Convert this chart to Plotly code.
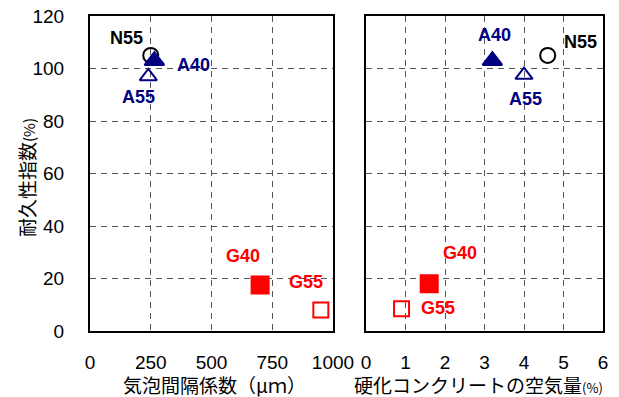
import plotly.graph_objects as go

# ---- data ----
labels = ["N55", "A40", "A55", "G40", "G55"]
spacing_um = [250, 265, 240, 700, 950]          # 気泡間隔係数 (μm)
air_pct = [4.6, 3.2, 4.0, 1.6, 0.9]             # 硬化コンクリートの空気量 (%)
durability_left = [105, 103, 97, 17.5, 8]       # 耐久性指数 (%) - left panel
durability_right = [105, 103, 97.5, 18, 8.5]    # 耐久性指数 (%) - right panel

symbols = ["circle-open", "triangle-up", "triangle-up-open", "square", "square-open"]
colors = ["black", "#000080", "#000080", "#FF0000", "#FF0000"]
sizes = [15, 17, 15, 17, 15]

left_x_ticks = [0, 250, 500, 750, 1000]
right_x_ticks = [0, 1, 2, 3, 4, 5, 6]
y_ticks = [0, 20, 40, 60, 80, 100, 120]

# label pixel offsets (dx, dy up) for left and right panels
left_offsets = [(-24, 17), (39, -4), (-10, -21), (-17, 29), (-15, 28)]
right_offsets = [(33, 13), (2, 26), (1, -24), (31, 31), (36, 1)]

W, H = 619, 397
FONT = "Liberation Sans, Arial, Noto Sans CJK JP, sans-serif"
JFONT = "Noto Sans CJK JP, Liberation Sans, sans-serif"

fig = go.Figure()
for i, lab in enumerate(labels):
    mk = dict(symbol=symbols[i], size=sizes[i], color=colors[i],
              line=dict(color=colors[i], width=2))
    fig.add_trace(go.Scatter(x=[spacing_um[i]], y=[durability_left[i]], mode="markers",
                             marker=mk, xaxis="x", yaxis="y", showlegend=False))
    fig.add_trace(go.Scatter(x=[air_pct[i]], y=[durability_right[i]], mode="markers",
                             marker=mk, xaxis="x2", yaxis="y2", showlegend=False))

annotations = []
for i, lab in enumerate(labels):
    dx, dy = left_offsets[i]
    annotations.append(dict(x=spacing_um[i], y=durability_left[i], xref="x", yref="y",
                            xanchor="center", yanchor="middle",
                            text="<b>%s</b>" % lab, showarrow=False, xshift=dx, yshift=dy,
                            font=dict(family=FONT, size=18, color=colors[i])))
    dx, dy = right_offsets[i]
    annotations.append(dict(x=air_pct[i], y=durability_right[i], xref="x2", yref="y2",
                            xanchor="center", yanchor="middle",
                            text="<b>%s</b>" % lab, showarrow=False, xshift=dx, yshift=dy,
                            font=dict(family=FONT, size=18, color=colors[i])))

# axis titles
annotations.append(dict(x=214 / W, y=1 - 384 / H, xref="paper", yref="paper",
                        xanchor="center", yanchor="middle", borderpad=0,
                        text="気泡間隔係数（μｍ）", showarrow=False,
                        font=dict(family=JFONT, size=19, color="black")))
annotations.append(dict(x=478 / W, y=1 - 384 / H, xref="paper", yref="paper",
                        xanchor="center", yanchor="middle", borderpad=0,
                        text="硬化コンクリートの空気量<span style='font-size:13px'>(%)</span>",
                        showarrow=False, font=dict(family=JFONT, size=19, color="black")))
annotations.append(dict(x=26 / W, y=1 - 178 / H, xref="paper", yref="paper",
                        xanchor="center", yanchor="middle", borderpad=0,
                        text="耐久性指数<span style='font-size:15px'>(%)</span>",
                        showarrow=False, textangle=-90,
                        font=dict(family=JFONT, size=19, color="black")))

grid = dict(showgrid=True, gridcolor="#555555", gridwidth=1, griddash="6px,5px",
            zeroline=False, showline=True, linecolor="black", linewidth=2, mirror=True,
            automargin=False,
            tickfont=dict(family=FONT, size=19, color="black"))

fig.update_layout(
    width=W, height=H, margin=dict(l=0, r=0, t=0, b=0, autoexpand=False),
    paper_bgcolor="white", plot_bgcolor="white",
    xaxis=dict(domain=[90 / W, 333 / W], range=[0, 1000], tickvals=left_x_ticks,
               ticks="outside", ticklen=13, tickcolor="rgba(0,0,0,0)", anchor="y", **grid),
    yaxis=dict(domain=[1 - 331 / H, 1 - 16 / H], range=[0, 120], tickvals=y_ticks,
               ticks="outside", ticklen=20, tickcolor="rgba(0,0,0,0)", anchor="x", **grid),
    xaxis2=dict(domain=[366 / W, 603 / W], range=[0, 6], tickvals=right_x_ticks,
                ticks="outside", ticklen=13, tickcolor="rgba(0,0,0,0)", anchor="y2", **grid),
    yaxis2=dict(domain=[1 - 331 / H, 1 - 16 / H], range=[0, 120], tickvals=y_ticks,
                showticklabels=False, anchor="x2", **grid),
    annotations=annotations,
)

fig.write_html("out.html", config={"displayModeBar": False},
               post_script="document.body.style.margin='0';document.body.style.padding='0';")
